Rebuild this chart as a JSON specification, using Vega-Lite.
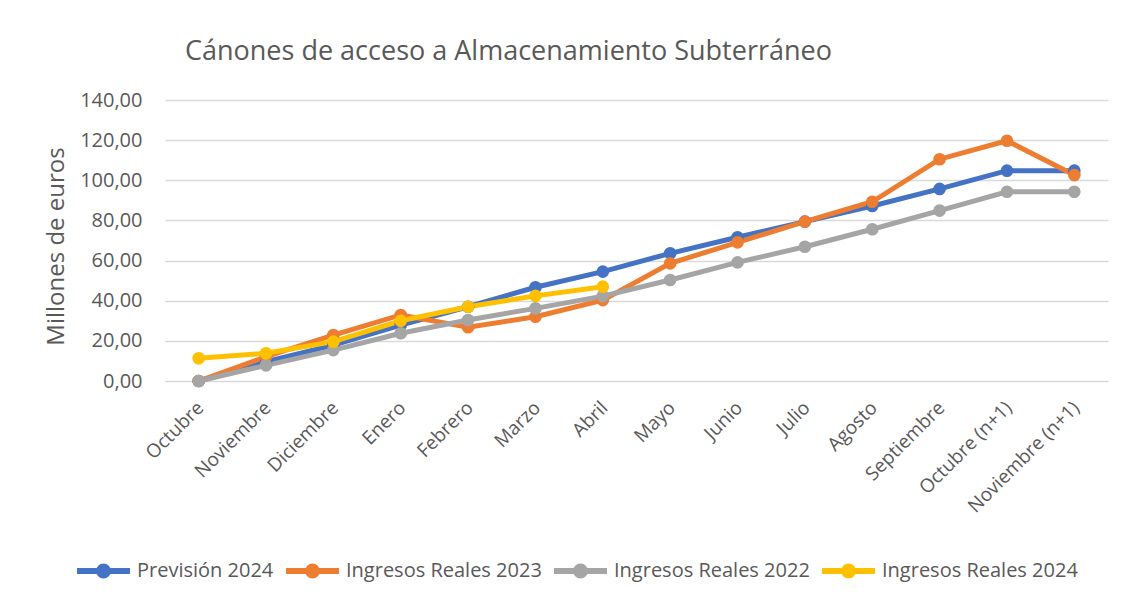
{
  "$schema": "https://vega.github.io/schema/vega-lite/v6.json",
  "width": 943,
  "height": 281,
  "autosize": {"type": "none"},
  "padding": {"left": 165, "top": 100, "right": 22, "bottom": 220},
  "background": "white",
  "title": {
    "text": "Cánones de acceso a Almacenamiento Subterráneo",
    "anchor": "start",
    "frame": "group",
    "dx": 20,
    "offset": 24,
    "font": "Open Sans",
    "fontSize": 27,
    "fontWeight": "normal",
    "color": "#595959"
  },
  "data": {
    "values": [
      {"mes": "Octubre", "serie": "Previsión 2024", "valor": 0},
      {"mes": "Noviembre", "serie": "Previsión 2024", "valor": 9.6},
      {"mes": "Diciembre", "serie": "Previsión 2024", "valor": 17.9},
      {"mes": "Enero", "serie": "Previsión 2024", "valor": 27.9},
      {"mes": "Febrero", "serie": "Previsión 2024", "valor": 37.0},
      {"mes": "Marzo", "serie": "Previsión 2024", "valor": 46.7},
      {"mes": "Abril", "serie": "Previsión 2024", "valor": 54.5},
      {"mes": "Mayo", "serie": "Previsión 2024", "valor": 63.6},
      {"mes": "Junio", "serie": "Previsión 2024", "valor": 71.6},
      {"mes": "Julio", "serie": "Previsión 2024", "valor": 79.4},
      {"mes": "Agosto", "serie": "Previsión 2024", "valor": 87.2},
      {"mes": "Septiembre", "serie": "Previsión 2024", "valor": 95.7},
      {"mes": "Octubre (n+1)", "serie": "Previsión 2024", "valor": 104.8},
      {"mes": "Noviembre (n+1)", "serie": "Previsión 2024", "valor": 104.8},
      {"mes": "Octubre", "serie": "Ingresos Reales 2023", "valor": 0},
      {"mes": "Noviembre", "serie": "Ingresos Reales 2023", "valor": 12.1},
      {"mes": "Diciembre", "serie": "Ingresos Reales 2023", "valor": 22.9},
      {"mes": "Enero", "serie": "Ingresos Reales 2023", "valor": 32.9},
      {"mes": "Febrero", "serie": "Ingresos Reales 2023", "valor": 26.8},
      {"mes": "Marzo", "serie": "Ingresos Reales 2023", "valor": 32.0},
      {"mes": "Abril", "serie": "Ingresos Reales 2023", "valor": 40.3},
      {"mes": "Mayo", "serie": "Ingresos Reales 2023", "valor": 58.6},
      {"mes": "Junio", "serie": "Ingresos Reales 2023", "valor": 69.1},
      {"mes": "Julio", "serie": "Ingresos Reales 2023", "valor": 79.4},
      {"mes": "Agosto", "serie": "Ingresos Reales 2023", "valor": 89.3},
      {"mes": "Septiembre", "serie": "Ingresos Reales 2023", "valor": 110.5},
      {"mes": "Octubre (n+1)", "serie": "Ingresos Reales 2023", "valor": 119.7},
      {"mes": "Noviembre (n+1)", "serie": "Ingresos Reales 2023", "valor": 102.6},
      {"mes": "Octubre", "serie": "Ingresos Reales 2022", "valor": 0},
      {"mes": "Noviembre", "serie": "Ingresos Reales 2022", "valor": 7.8},
      {"mes": "Diciembre", "serie": "Ingresos Reales 2022", "valor": 15.4},
      {"mes": "Enero", "serie": "Ingresos Reales 2022", "valor": 23.8},
      {"mes": "Febrero", "serie": "Ingresos Reales 2022", "valor": 30.4},
      {"mes": "Marzo", "serie": "Ingresos Reales 2022", "valor": 36.2},
      {"mes": "Abril", "serie": "Ingresos Reales 2022", "valor": 42.3},
      {"mes": "Mayo", "serie": "Ingresos Reales 2022", "valor": 50.3},
      {"mes": "Junio", "serie": "Ingresos Reales 2022", "valor": 59.1},
      {"mes": "Julio", "serie": "Ingresos Reales 2022", "valor": 66.9},
      {"mes": "Agosto", "serie": "Ingresos Reales 2022", "valor": 75.6},
      {"mes": "Septiembre", "serie": "Ingresos Reales 2022", "valor": 84.9},
      {"mes": "Octubre (n+1)", "serie": "Ingresos Reales 2022", "valor": 94.3},
      {"mes": "Noviembre (n+1)", "serie": "Ingresos Reales 2022", "valor": 94.3},
      {"mes": "Octubre", "serie": "Ingresos Reales 2024", "valor": 11.3},
      {"mes": "Noviembre", "serie": "Ingresos Reales 2024", "valor": 13.8},
      {"mes": "Diciembre", "serie": "Ingresos Reales 2024", "valor": 19.6},
      {"mes": "Enero", "serie": "Ingresos Reales 2024", "valor": 30.0},
      {"mes": "Febrero", "serie": "Ingresos Reales 2024", "valor": 37.0},
      {"mes": "Marzo", "serie": "Ingresos Reales 2024", "valor": 42.4},
      {"mes": "Abril", "serie": "Ingresos Reales 2024", "valor": 47.0}
    ]
  },
  "mark": {"type": "line", "strokeWidth": 5, "point": {"filled": true, "size": 160, "opacity": 1}},
  "encoding": {
    "x": {
      "field": "mes",
      "type": "nominal",
      "sort": null,
      "scale": {"paddingInner": 0, "paddingOuter": 0.5},
      "axis": {
        "title": null,
        "labelAngle": -45,
        "labelFont": "Open Sans",
        "labelFontSize": 19,
        "labelColor": "#595959",
        "labelPadding": 17,
        "labelOffset": -5,
        "labelLimit": 300,
        "ticks": false,
        "domain": false,
        "grid": false
      }
    },
    "y": {
      "field": "valor",
      "type": "quantitative",
      "scale": {"domain": [0, 140], "nice": false},
      "axis": {
        "title": "Millones de euros",
        "titleFont": "Open Sans",
        "titleFontSize": 24,
        "titleFontWeight": "normal",
        "titleColor": "#595959",
        "titleX": -97,
        "titleY": 146,
        "values": [0, 20, 40, 60, 80, 100, 120, 140],
        "labelExpr": "replace(format(datum.value, '.2f'), '.', ',')",
        "labelFont": "Open Sans",
        "labelFontSize": 20,
        "labelColor": "#595959",
        "labelPadding": 23,
        "ticks": false,
        "domain": false,
        "grid": true,
        "gridColor": "#D9D9D9",
        "gridWidth": 1.5
      }
    },
    "color": {
      "field": "serie",
      "type": "nominal",
      "sort": null,
      "scale": {
        "domain": ["Previsión 2024", "Ingresos Reales 2023", "Ingresos Reales 2022", "Ingresos Reales 2024"],
        "range": ["#4472C4", "#ED7D31", "#A5A5A5", "#FFC000"]
      },
      "legend": {
        "title": null,
        "orient": "none",
        "direction": "horizontal",
        "columns": 4,
        "legendX": -91,
        "legendY": 441,
        "symbolType": "M-1,0L1,0M-0.17,0A0.17,0.17 0 1,0 0.17,0A0.17,0.17 0 1,0 -0.17,0",
        "symbolSize": 2809,
        "symbolStrokeWidth": 6,
        "symbolOpacity": 1,
        "labelFont": "Open Sans",
        "labelFontSize": 20,
        "labelColor": "#595959",
        "labelOffset": 4,
        "columnPadding": 0,
        "labelLimit": 400
      }
    }
  },
  "config": {"view": {"stroke": null}}
}
